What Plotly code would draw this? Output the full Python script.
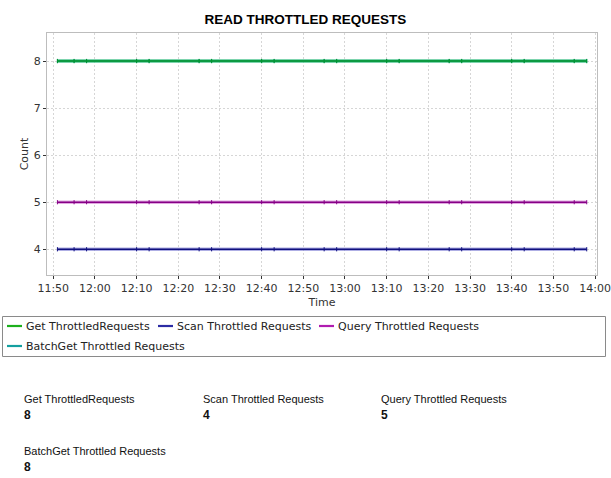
import plotly.graph_objects as go

# Sample times (HH:MM) for every series
times = ["11:51", "11:55", "11:58", "12:10", "12:13", "12:25", "12:28",
         "12:40", "12:43", "12:55", "12:58", "13:10", "13:13", "13:25",
         "13:28", "13:40", "13:43", "13:55", "13:58"]

get_throttled = [8, 8, 8, 8, 8, 8, 8, 8, 8, 8, 8, 8, 8, 8, 8, 8, 8, 8, 8]
scan_throttled = [4, 4, 4, 4, 4, 4, 4, 4, 4, 4, 4, 4, 4, 4, 4, 4, 4, 4, 4]
query_throttled = [5, 5, 5, 5, 5, 5, 5, 5, 5, 5, 5, 5, 5, 5, 5, 5, 5, 5, 5]
batchget_throttled = [8, 8, 8, 8, 8, 8, 8, 8, 8, 8, 8, 8, 8, 8, 8, 8, 8, 8, 8]

series_names = ["Get ThrottledRequests", "Scan Throttled Requests",
                "Query Throttled Requests", "BatchGet Throttled Requests"]
series_values = [get_throttled, scan_throttled, query_throttled, batchget_throttled]

# line core / glow / legend swatch colours
core_colors = ["#00922e", "#10107e", "#860086", "#008a8a"]
glow_colors = ["rgba(60,195,110,0.6)", "rgba(120,120,210,0.6)",
               "rgba(205,110,205,0.6)", "rgba(80,190,190,0.6)"]
swatch_colors = ["#1cb01c", "#2c2ca4", "#b01cb0", "#14a0a0"]

day = "2024-01-01 "
x_vals = [day + t for t in times]

W, H = 611, 478
PL, PR, PT, PB = 47, 597, 33, 275  # plot frame in pixels


def px(xp):
    return (xp - PL) / (PR - PL)


def py(yp):
    return (PB - yp) / (PB - PT)


fig = go.Figure()

# draw BatchGet first so the Get series sits on top of it
draw_order = [3, 1, 2, 0]
for i in draw_order:
    fig.add_trace(go.Scatter(
        x=x_vals, y=series_values[i], mode="lines",
        line=dict(color=glow_colors[i], width=3.6),
        hoverinfo="skip", showlegend=False))
    fig.add_trace(go.Scatter(
        x=x_vals, y=series_values[i], mode="lines+markers", name=series_names[i],
        line=dict(color=core_colors[i], width=1.5),
        marker=dict(symbol="line-ns", size=3,
                    line=dict(color=core_colors[i], width=1)),
        showlegend=False))

tick_font = dict(family="DejaVu Sans", size=11, color="#333333")

fig.update_xaxes(
    type="date",
    range=[day + "11:48:30", day + "14:00:28"],
    dtick=10 * 60 * 1000, tick0=day + "11:50", tickformat="%H:%M",
    showgrid=True, gridcolor="#d6d6d6", griddash="2px,2px", gridwidth=1,
    showline=True, linecolor="#bdbdbd", linewidth=1, mirror=True,
    ticks="outside", ticklen=3, tickcolor="#333333",
    tickfont=tick_font, zeroline=False,
    title=dict(text="Time", font=tick_font, standoff=4),
)
fig.update_yaxes(
    range=[3.453, 8.596], dtick=1, tick0=4,
    showgrid=True, gridcolor="#d6d6d6", griddash="2px,2px", gridwidth=1,
    showline=True, linecolor="#bdbdbd", linewidth=1, mirror=True,
    ticks="outside", ticklen=3, tickcolor="#333333",
    tickfont=tick_font, zeroline=False,
    title=dict(text="Count", font=tick_font, standoff=2),
)

shapes = []
annotations = []

# legend box with line swatches
shapes.append(dict(type="rect", xref="paper", yref="paper",
                   x0=px(2.5), x1=px(605.5), y0=py(316.5), y1=py(356.5),
                   line=dict(color="#8a8a8a", width=1), fillcolor="rgba(0,0,0,0)"))
legend_x = [7, 158, 319, 7]
legend_y = [326, 326, 326, 346]
for i, name in enumerate(series_names):
    shapes.append(dict(type="line", xref="paper", yref="paper",
                       x0=px(legend_x[i]), x1=px(legend_x[i] + 15),
                       y0=py(legend_y[i]), y1=py(legend_y[i]),
                       line=dict(color=swatch_colors[i], width=2.2)))
    annotations.append(dict(text=name, xref="paper", yref="paper",
                            x=px(legend_x[i] + 17), y=py(legend_y[i]),
                            xanchor="left", yanchor="middle", showarrow=False,
                            font=dict(family="DejaVu Sans", size=11, color="#222222")))

# latest-value summary grid
col_x = [22, 201, 379]
row_label_y = [399, 451]
row_value_y = [415, 467]
summary_font = "Liberation Sans, Arial, sans-serif"
for i, name in enumerate(series_names):
    c, r = i % 3, i // 3
    annotations.append(dict(text=name, xref="paper", yref="paper",
                            x=px(col_x[c]), y=py(row_label_y[r]),
                            xanchor="left", yanchor="middle", showarrow=False,
                            font=dict(family=summary_font, size=11, color="#111111")))
    annotations.append(dict(text="<b>%d</b>" % series_values[i][-1],
                            xref="paper", yref="paper",
                            x=px(col_x[c]), y=py(row_value_y[r]),
                            xanchor="left", yanchor="middle", showarrow=False,
                            font=dict(family=summary_font, size=12, color="#111111")))

fig.update_layout(
    width=W, height=H,
    margin=dict(l=PL, r=W - PR, t=PT, b=H - PB, autoexpand=False),
    paper_bgcolor="white", plot_bgcolor="white",
    title=dict(text="READ THROTTLED REQUESTS", xref="container", x=0.5,
               xanchor="center", yref="container", y=1 - 19 / H, yanchor="middle",
               font=dict(family="Liberation Sans", size=13.5, color="#000000",
                         weight="bold")),
    showlegend=False,
    shapes=shapes,
    annotations=annotations,
)

fig.write_html("out.html")
